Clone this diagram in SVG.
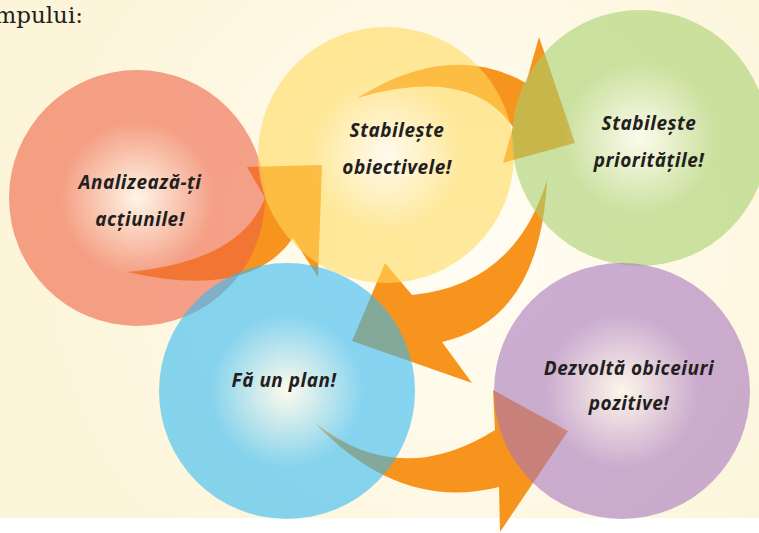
<svg xmlns="http://www.w3.org/2000/svg" width="759" height="533" viewBox="0 0 759 533">
  <defs>
    <radialGradient id="bgGlow" cx="460" cy="250" r="420" gradientUnits="userSpaceOnUse">
      <stop offset="0" stop-color="#fffdf4"/>
      <stop offset="1" stop-color="#fdf5da"/>
    </radialGradient>
    <radialGradient id="gRed">
      <stop offset="0" stop-color="#fff4ea"/>
      <stop offset="0.6" stop-color="#ee5f43"/>
      <stop offset="1" stop-color="#ee5f43"/>
    </radialGradient>
    <radialGradient id="gYellow">
      <stop offset="0" stop-color="#fffaf0"/>
      <stop offset="0.6" stop-color="#ffda5c"/>
      <stop offset="1" stop-color="#ffda5c"/>
    </radialGradient>
    <radialGradient id="gGreen">
      <stop offset="0" stop-color="#fbfdf0"/>
      <stop offset="0.6" stop-color="#a5cf6b"/>
      <stop offset="1" stop-color="#a5cf6b"/>
    </radialGradient>
    <radialGradient id="gBlue">
      <stop offset="0" stop-color="#fdfbf0"/>
      <stop offset="0.6" stop-color="#2fb8f4"/>
      <stop offset="1" stop-color="#2fb8f4"/>
    </radialGradient>
    <radialGradient id="gPurple">
      <stop offset="0" stop-color="#fdf3ec"/>
      <stop offset="0.6" stop-color="#a574bd"/>
      <stop offset="1" stop-color="#a574bd"/>
    </radialGradient>
  </defs>
  <style>
    .disc { fill-opacity: 0.58; }
    .arrow { fill: #f7941d; }
    .label { font-family: "Noto Sans", "Open Sans", sans-serif; font-weight: 700; font-style: italic; font-size: 19px; fill: #231f20; text-anchor: middle; letter-spacing: 0.5px; }
    .lead { font-family: "DejaVu Serif", "Liberation Serif", serif; font-size: 23px; fill: #231f20; text-anchor: end; }
  </style>

  <!-- page -->
  <rect x="0" y="0" width="759" height="533" fill="#ffffff"/>
  <rect x="0" y="0" width="759" height="518" fill="url(#bgGlow)"/>
  <text class="lead" x="83" y="23">mpului:</text>

  <!-- curved arrows between the steps -->
  <g id="connectors">
    <path id="arrow-analyze-goals" class="arrow" d="M127,272 Q250,300 293,238 L318,277 L322,165 L247,167 L265,198 Q240,262 127,272 Z"/>
    <path id="arrow-goals-priorities" class="arrow" d="M357,98 Q450,40 526,83 L539,37 L575,143 L503,163 L513,127 Q470,65 357,98 Z"/>
    <path id="arrow-priorities-plan" class="arrow" d="M547,180 Q540,320 442,342 L472,383 L352,341 L385,263 L412,295 Q515,285 547,180 Z"/>
    <path id="arrow-plan-habits" class="arrow" d="M315,423 Q400,512 499,487 L500,532 L568,431 L493,390 L495,430 Q400,490 315,423 Z"/>
  </g>

  <g id="node-analyze">
    <circle class="disc" cx="137" cy="198" r="128" fill="url(#gRed)"/>
  </g>
  <g id="node-goals">
    <circle class="disc" cx="386" cy="155" r="128" fill="url(#gYellow)"/>
  </g>
  <g id="node-priorities">
    <circle class="disc" cx="640" cy="138" r="128" fill="url(#gGreen)"/>
  </g>
  <g id="node-habits">
    <circle class="disc" cx="622" cy="391" r="128" fill="url(#gPurple)"/>
  </g>
  <g id="node-plan">
    <circle class="disc" cx="287" cy="391" r="128" fill="url(#gBlue)"/>
  </g>

  <!-- step labels -->
  <g id="labels">
    <text class="label" x="140" y="189">Analizează-ți</text>
    <text class="label" x="140" y="226">acțiunile!</text>
    <text class="label" x="397" y="137">Stabilește</text>
    <text class="label" x="397" y="174">obiectivele!</text>
    <text class="label" x="649" y="130">Stabilește</text>
    <text class="label" x="649" y="167">prioritățile!</text>
    <text class="label" x="284" y="387">Fă un plan!</text>
    <text class="label" x="629" y="375">Dezvoltă obiceiuri</text>
    <text class="label" x="629" y="410">pozitive!</text>
  </g>
</svg>
